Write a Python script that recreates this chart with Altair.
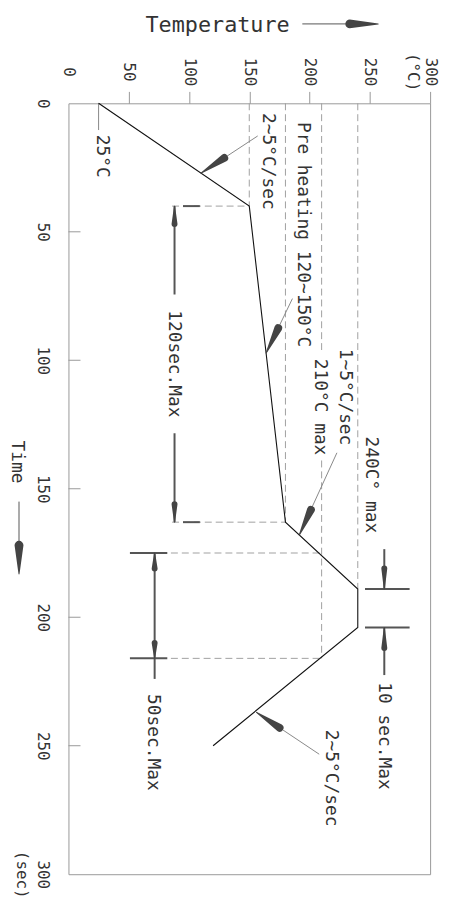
import altair as alt
import pandas as pd

FONT = "DejaVu Sans Mono"
W, H = 365, 778

# Reflow profile (temperature °C, time sec)
profile_temp = [25, 150, 180, 240, 240, 120]
profile_time = [0, 40, 163, 189, 204, 250]

temp_ticks = [0, 50, 100, 150, 200, 250, 300]
time_ticks = [0, 50, 100, 150, 200, 250, 300]
inner_time_ticks = [50, 100, 150, 200, 250]

# dashed guide lines (temp1, time1, temp2, time2)
dash_T1 = [150, 180, 210, 210, 240, 86, 86, 85, 85]
dash_t1 = [0, 0, 0, 139, 0, 40, 163, 175, 216]
dash_T2 = [150, 180, 210, 210, 240, 150, 180, 210, 210]
dash_t2 = [40, 163, 96, 216, 189, 40, 163, 175, 216]

# dimension lines (solid)
dim_T1 = [95, 95, 51, 51, 246, 246, 88, 88, 71.5, 262, 262]
dim_t1 = [40, 163, 175, 216, 189, 204, 40, 128.4, 175, 173.5, 204]
dim_T2 = [109, 109, 82, 82, 283, 283, 88, 88, 71.5, 262, 262]
dim_t2 = [40, 163, 175, 216, 189, 204, 74.4, 163, 224, 189, 222.5]

# leader lines for callouts
lead_T1 = [25, 157, 185.8, 222.7, 208]
lead_t1 = [0, 12.7, 76, 136, 253.3]
lead_T2 = [25, 110, 164, 191.5, 156]
lead_t2 = [10.4, 27.2, 97.2, 168, 237]

# arrowheads: tip and base, width
arr_tip_T = [110, 164, 191.5, 156, 88, 88, 71.5, 71.5, 262, 262, 257, -41]
arr_tip_t = [27.2, 97.2, 168, 237, 40, 163, 175, 216, 189, 204, -30.9, 183.2]
arr_base_T = [129.2, 174, 201.1, 175.1, 88, 88, 71.5, 71.5, 262, 262, 233.4, -41]
arr_base_t = [21.3, 87.5, 158.2, 243, 47, 156, 181, 210, 181, 212, -30.9, 172]
arr_width = [8, 8, 8, 8, 6, 6, 6, 6, 6, 6, 9, 9]

# title arrow shafts
shaft_T1 = [194, -41]
shaft_t1 = [-30.9, 155]
shaft_T2 = [240, -41]
shaft_t2 = [-30.9, 175]

# callout texts
label_text = ["25°C", "2~5°C/sec", "Pre heating 120~150°C", "120sec.Max", "210°C max",
              "1~5°C/sec", "240C° max", "10 sec.Max", "2~5°C/sec", "50sec.Max"]
label_T = [27.5, 165.2, 194.6, 87.9, 209, 229.7, 250.7, 261.8, 217.8, 70.3]
label_t = [20.6, 22.6, 51.1, 101.4, 118.2, 114.3, 148.5, 246.2, 262.6, 248.7]

xs = alt.Scale(domain=[0, 300], nice=False, zero=False)
ys = alt.Scale(domain=[0, 300], nice=False, zero=False, reverse=True)

xaxis = alt.Axis(orient="top", values=temp_ticks, labelAngle=90, labelAlign="center",
                 labelBaseline="middle", labelPadding=20, tickSize=12, tickColor="#999",
                 tickOpacity={"condition": {"test": "datum.value === 0", "value": 0}, "value": 1},
                 domain=False, grid=False, title=None, labelFont=FONT, labelFontSize=16,
                 labelColor="#333", labelLineHeight=18, labelFlush=False, labelOverlap=False,
                 labelBound=False,
                 labelExpr="datum.value == 300 ? ['300','(°C)'] : datum.label")
yaxis = alt.Axis(orient="left", values=time_ticks, labelAngle=90, labelAlign="center",
                 labelBaseline="top", labelPadding=18, ticks=False, tickSize=0,
                 domain=False, grid=False, title=None, labelFont=FONT, labelFontSize=16,
                 labelColor="#333", labelLineHeight=21, labelFlush=False, labelOverlap=False,
                 labelBound=False,
                 labelExpr="datum.value == 300 ? ['300','(sec)'] : datum.label")


def X(f):
    return alt.X(f, type="quantitative", scale=xs, axis=xaxis)


def Y(f):
    return alt.Y(f, type="quantitative", scale=ys, axis=yaxis)


def seg_df(T1, t1, T2, t2):
    return pd.DataFrame({"T1": T1, "t1": t1, "T2": T2, "t2": t2})


def rules(df, **kw):
    return alt.Chart(df).mark_rule(**kw).encode(
        x=X("T1"), y=Y("t1"), x2="T2:Q", y2="t2:Q")


profile_df = pd.DataFrame({"T": profile_temp, "t": profile_time, "i": range(len(profile_temp))})
profile = alt.Chart(profile_df).mark_line(color="#111", strokeWidth=1.1).encode(
    x=X("T"), y=Y("t"), order="i:Q")

dashed = rules(seg_df(dash_T1, dash_t1, dash_T2, dash_t2), color="#a0a0a0", strokeWidth=1,
               strokeDash=[7, 4])
dims = rules(seg_df(dim_T1, dim_t1, dim_T2, dim_t2), color="#555", strokeWidth=2)
leads = rules(seg_df(lead_T1, lead_t1, lead_T2, lead_t2), color="#888", strokeWidth=1)
shafts = rules(seg_df(shaft_T1, shaft_t1, shaft_T2, shaft_t2), color="#555", strokeWidth=1)

tick_df = pd.DataFrame({"T1": [0] * len(inner_time_ticks), "t1": inner_time_ticks,
                        "T2": [10] * len(inner_time_ticks), "t2": inner_time_ticks})
inner_ticks = rules(tick_df, color="#999", strokeWidth=1)

arr_rows = []
for k in range(len(arr_tip_T)):
    arr_rows.append({"id": k, "o": 0, "T": arr_tip_T[k], "t": arr_tip_t[k], "w": 0})
    arr_rows.append({"id": k, "o": 1, "T": arr_base_T[k], "t": arr_base_t[k], "w": arr_width[k]})
arrows = alt.Chart(pd.DataFrame(arr_rows)).mark_trail(color="#444").encode(
    x=X("T"), y=Y("t"), size=alt.Size("w:Q", scale=None), detail="id:N", order="o:Q")

lab_df = pd.DataFrame({"txt": label_text, "T": label_T, "t": label_t})
labels = alt.Chart(lab_df).mark_text(angle=90, align="center", baseline="middle", font=FONT,
                                     fontSize=18, color="#333").encode(
    x=X("T"), y=Y("t"), text="txt:N")

title_x = alt.Chart(pd.DataFrame({"txt": ["Temperature"], "T": [123.7], "t": [-30.5]})).mark_text(
    align="center", baseline="middle", font=FONT, fontSize=22, color="#333").encode(
    x=X("T"), y=Y("t"), text="txt:N")
title_y = alt.Chart(pd.DataFrame({"txt": ["Time"], "T": [-43], "t": [139.6]})).mark_text(
    angle=90, align="center", baseline="middle", font=FONT, fontSize=18, color="#333").encode(
    x=X("T"), y=Y("t"), text="txt:N")

chart = alt.layer(
    dashed, inner_ticks, leads, shafts, dims, profile, arrows, labels, title_x, title_y
).properties(
    width=W, height=H, autosize="none",
    padding={"left": 61, "top": 92, "right": 12, "bottom": 40},
).configure_view(stroke="#999", strokeWidth=1)

chart.save("out.html", embed_options={"renderer": "svg", "actions": False})
